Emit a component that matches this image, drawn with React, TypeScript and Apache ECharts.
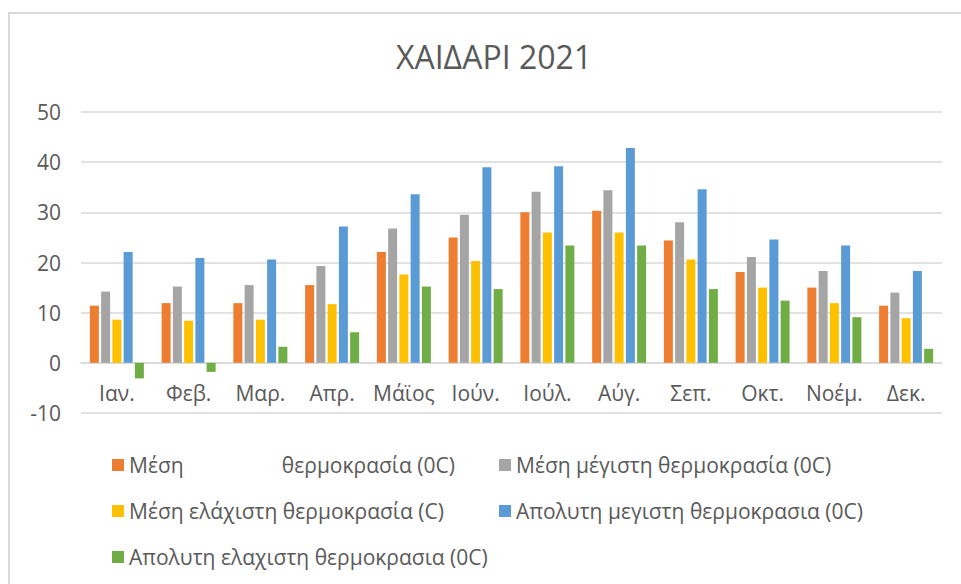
import React, { useEffect, useRef } from "react";
import * as echarts from "echarts";

const months = ["Ιαν.", "Φεβ.", "Μαρ.", "Απρ.", "Μάϊος", "Ιούν.", "Ιούλ.", "Αύγ.", "Σεπ.", "Οκτ.", "Νοέμ.", "Δεκ."];

const meanTemp = [11.4, 11.9, 11.9, 15.5, 22.1, 25.0, 30.0, 30.3, 24.4, 18.1, 15.0, 11.4];
const meanMax = [14.2, 15.2, 15.5, 19.3, 26.8, 29.5, 34.1, 34.4, 28.0, 21.1, 18.3, 14.0];
const meanMin = [8.6, 8.4, 8.6, 11.7, 17.6, 20.3, 26.0, 26.0, 20.6, 15.0, 11.9, 8.9];
const absMax = [22.1, 20.9, 20.6, 27.2, 33.6, 39.0, 39.2, 42.8, 34.6, 24.6, 23.4, 18.3];
const absMin = [-3.1, -1.8, 3.2, 6.1, 15.2, 14.7, 23.4, 23.4, 14.7, 12.4, 9.1, 2.8];

const seriesNames = [
  "Μέση                  θερμοκρασία (0C)",
  "Μέση μέγιστη θερμοκρασία (0C)",
  "Μέση ελάχιστη θερμοκρασία (C)",
  "Απολυτη μεγιστη θερμοκρασια (0C)",
  "Απολυτη ελαχιστη θερμοκρασια (0C)",
];
const seriesData = [meanTemp, meanMax, meanMin, absMax, absMin];
const colors = ["#ED7D31", "#A5A5A5", "#FFC000", "#5B9BD5", "#70AD47"];

const yTicks = { min: -10, max: 50, interval: 10 };

export default function App() {
  const ref = useRef<HTMLDivElement>(null);
  useEffect(() => {
    if (!ref.current) return;
    const chart = echarts.init(ref.current, null, { renderer: "svg" });
    const font = "'Open Sans', 'Noto Sans', sans-serif";
    const legendPos = [
      { left: 112, top: 454 },
      { left: 499, top: 454 },
      { left: 112, top: 500 },
      { left: 499, top: 500 },
      { left: 112, top: 546 },
    ];
    chart.setOption({
      animation: false,
      color: colors,
      textStyle: { fontFamily: font },
      title: {
        text: "ΧΑΙΔΑΡΙ 2021",
        left: 489,
        top: 35,
        textAlign: "center",
        textStyle: { fontFamily: font, fontSize: 32, fontWeight: "normal", color: "#595959" },
      },
      graphic: [
        {
          type: "rect",
          shape: { x: 9, y: 13, width: 1000, height: 700 },
          style: { fill: "none", stroke: "#d9d9d9", lineWidth: 2 },
          silent: true,
        },
      ],
      legend: seriesNames.map((name, i) => ({
        data: [name],
        left: legendPos[i].left,
        top: legendPos[i].top,
        padding: 0,
        icon: "rect",
        itemWidth: 12,
        itemHeight: 12,
        textStyle: { fontFamily: font, fontSize: 21, color: "#595959", lineHeight: 22 },
      })),
      grid: { left: 81, right: 19, top: 112, bottom: 171, containLabel: false },
      xAxis: {
        type: "category",
        data: months,
        position: "bottom",
        offset: -50,
        axisLine: { show: true, onZero: false, lineStyle: { color: "#d9d9d9", width: 1.5 } },
        axisTick: { show: false },
        axisLabel: { fontFamily: font, fontSize: 21, color: "#595959", margin: 19, interval: 0 },
      },
      yAxis: {
        type: "value",
        min: yTicks.min,
        max: yTicks.max,
        interval: yTicks.interval,
        axisLine: { show: false },
        axisTick: { show: false },
        axisLabel: { fontFamily: font, fontSize: 21, color: "#595959", margin: 20 },
        splitLine: { lineStyle: { color: "#d9d9d9", width: 1.5 } },
      },
      series: seriesNames.map((name, i) => ({
        name,
        type: "bar",
        data: seriesData[i],
        barWidth: 9,
        barGap: "25%",
        itemStyle: { color: colors[i] },
      })),
    });
    return () => chart.dispose();
  }, []);
  return (
    <div
      ref={ref}
      style={{ position: "fixed", left: 0, top: 0, width: 961, height: 584, background: "#fff" }}
    />
  );
}
